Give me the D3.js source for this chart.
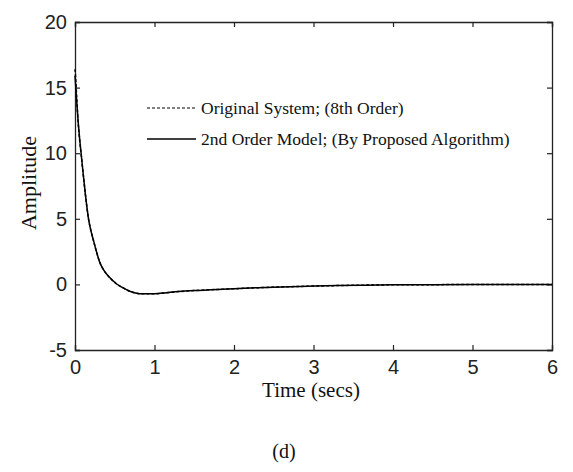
<!DOCTYPE html>
<html>
<head>
<meta charset="utf-8">
<script src="https://cdn.jsdelivr.net/npm/d3@7"></script>
<style>
  body { margin: 0; background: #fff; }
  .tick text { font-family: Arial, "Liberation Sans", sans-serif; font-size: 20px; fill: #222; }
  .serif { font-family: "Times New Roman", "Liberation Serif", serif; fill: #111; }
</style>
</head>
<body>
<div id="chart"></div>
<script>
// step response
let timeOrig = [0, 0.01, 0.02, 0.04, 0.06, 0.08, 0.1, 0.13, 0.17, 0.2, 0.23, 0.27, 0.31, 0.36, 0.44, 0.52, 0.6, 0.68, 0.76, 0.85, 1.0, 1.15, 1.3, 1.5, 1.8, 2.0, 2.3, 2.6, 3.0, 3.3, 3.6, 4.0, 4.5, 5.0, 5.5, 6.0];
let ampOrig  = [16.4, 15.6, 14.4, 12.3, 10.9, 9.8, 8.6, 6.9, 5.0, 4.1, 3.4, 2.5, 1.7, 1.1, 0.5, 0.05, -0.25, -0.5, -0.66, -0.72, -0.72, -0.64, -0.55, -0.47, -0.38, -0.33, -0.25, -0.19, -0.13, -0.09, -0.06, -0.03, -0.02, -0.01, 0, 0];
let timeModel = [0, 0.02, 0.04, 0.06, 0.08, 0.1, 0.13, 0.17, 0.2, 0.23, 0.27, 0.31, 0.36, 0.44, 0.52, 0.6, 0.68, 0.76, 0.85, 1.0, 1.15, 1.3, 1.5, 1.8, 2.0, 2.3, 2.6, 3.0, 3.3, 3.6, 4.0, 4.5, 5.0, 5.5, 6.0];
let ampModel  = [15.9, 14.1, 12.4, 11.0, 9.8, 8.6, 6.9, 5.0, 4.1, 3.4, 2.5, 1.7, 1.1, 0.5, 0.05, -0.25, -0.5, -0.65, -0.72, -0.71, -0.63, -0.55, -0.47, -0.38, -0.33, -0.25, -0.19, -0.13, -0.09, -0.06, -0.03, -0.02, -0.01, 0, 0];

let xTicks = [0, 1, 2, 3, 4, 5, 6];
let yTicks = [-5, 0, 5, 10, 15, 20];
let legendLabels = ["Original System; (8th Order)", "2nd Order Model; (By Proposed Algorithm)"];

let margin = { top: 22, right: 21, bottom: 122, left: 75 };
let W = 573, H = 472;
let width = W - margin.left - margin.right,
    height = H - margin.top - margin.bottom;

let svg = d3.select("#chart").append("svg")
    .attr("width", W)
    .attr("height", H);

let g = svg.append("g")
    .attr("transform", "translate(" + margin.left + "," + margin.top + ")");

let x = d3.scaleLinear().domain([0, 6]).range([0, width]);
let y = d3.scaleLinear().domain([-5, 20]).range([height, 0]);

// axes with inward ticks, matlab style box (plain hyphen for negatives)
g.append("g")
    .attr("class", "x-axis")
    .attr("transform", "translate(0," + height + ")")
    .call(d3.axisBottom(x).tickValues(xTicks).tickSize(-5).tickPadding(10).tickFormat(d => String(d)));
g.append("g")
    .attr("class", "y-axis")
    .call(d3.axisLeft(y).tickValues(yTicks).tickSize(-5).tickPadding(8).tickFormat(d => String(d)));
g.append("g")
    .call(d3.axisTop(x).tickValues(xTicks).tickSize(-5).tickFormat(""));
g.append("g")
    .attr("transform", "translate(" + width + ",0)")
    .call(d3.axisRight(y).tickValues(yTicks).tickSize(-5).tickFormat(""));

g.selectAll(".domain").attr("stroke", "#222").attr("stroke-width", 1.3);
g.selectAll(".tick line").attr("stroke", "#222").attr("stroke-width", 1.2);

let line = d3.line()
    .x(d => x(d[0]))
    .y(d => y(d[1]))
    .curve(d3.curveMonotoneX);

let orig = timeOrig.map((t, i) => [t, ampOrig[i]]);
let model = timeModel.map((t, i) => [t, ampModel[i]]);

g.append("path")
    .datum(model)
    .attr("fill", "none")
    .attr("stroke", "#000")
    .attr("stroke-width", 1.5)
    .attr("d", line);

g.append("path")
    .datum(orig)
    .attr("fill", "none")
    .attr("stroke", "#000")
    .attr("stroke-width", 1.5)
    .attr("stroke-dasharray", "3,2")
    .attr("d", line);

// legend
let legend = svg.append("g").attr("transform", "translate(147,0)");
legendLabels.forEach((lab, i) => {
    let ly = 108 + i * 31;
    legend.append("line")
        .attr("x1", 0).attr("x2", 49)
        .attr("y1", ly).attr("y2", ly)
        .attr("stroke", "#000")
        .attr("stroke-width", i == 0 ? 1 : 1.3)
        .attr("stroke-dasharray", i == 0 ? "3,2" : null);
    legend.append("text")
        .attr("class", "serif")
        .attr("x", 54)
        .attr("y", ly + 6)
        .style("font-size", "17.5px")
        .text(lab);
});

// axis titles
svg.append("text")
    .attr("class", "serif")
    .attr("transform", "translate(36,183) rotate(-90)")
    .style("text-anchor", "middle")
    .style("font-size", "22px")
    .text("Amplitude");
svg.append("text")
    .attr("class", "serif")
    .attr("x", 311)
    .attr("y", 397)
    .style("text-anchor", "middle")
    .style("font-size", "21px")
    .text("Time (secs)");

svg.append("text")
    .attr("class", "serif")
    .attr("x", 284)
    .attr("y", 458)
    .style("text-anchor", "middle")
    .style("font-size", "20px")
    .text("(d)");
</script>
</body>
</html>
